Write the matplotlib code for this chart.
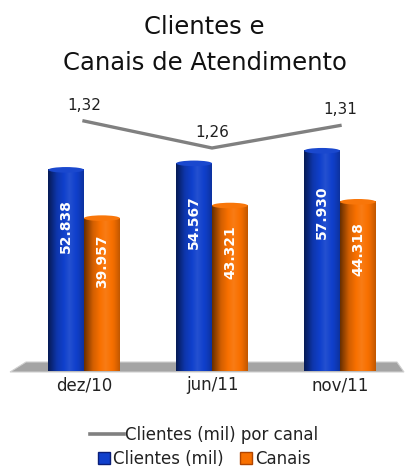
import numpy as np
import matplotlib
matplotlib.use('Agg')
import matplotlib.pyplot as plt
from matplotlib.patches import Polygon, Ellipse, Patch
from matplotlib.lines import Line2D
from matplotlib.colors import to_rgb

# dados
periodos = ['dez/10', 'jun/11', 'nov/11']
clientes = [52838, 54567, 57930]
canais = [39957, 43321, 44318]
por_canal = [1.32, 1.26, 1.31]

azul = '#1040cc'
laranja = '#f87000'
cinza = '#808080'


def fmt_milhar(v):
    return f'{v:,}'.replace(',', '.')


def gradiente(cor):
    # sombreado de cilindro: borda esquerda escura, brilho a direita do meio
    base = np.array(to_rgb(cor))
    t = np.linspace(0, 1, 64)
    f = np.interp(t, [0, 0.25, 0.6, 0.85, 1], [0.42, 0.85, 1.12, 0.95, 0.78])
    rows = []
    for k in f:
        if k <= 1:
            rows.append(base * k)
        else:
            rows.append(base + (1 - base) * (k - 1) * 0.7)
    return np.clip(np.array(rows), 0, 1)[None, :, :]


fig = plt.figure(figsize=(4.09, 4.69), dpi=100)
ax = fig.add_axes([20 / 409, (469 - 368) / 469, 384 / 409, 300 / 469])
ax2 = ax.twinx()

x = np.arange(len(periodos))
w = 0.28

# chao cinza
chao = Polygon([(-0.578, -1067), (-0.453, 1600), (2.445, 1600), (2.5, -1067)],
               closed=True, facecolor='#a4a4a4', edgecolor='#d0d0d0', lw=0.8,
               zorder=0, clip_on=False)
ax.add_patch(chao)

for serie, cor, desl in [(clientes, azul, -w / 2), (canais, laranja, w / 2)]:
    barras = ax.bar(x + desl, serie, width=w, color=cor, zorder=2)
    grad = gradiente(cor)
    for b, v in zip(barras, serie):
        x0 = b.get_x()
        im = ax.imshow(grad, extent=[x0, x0 + w, -800, v], aspect='auto',
                       zorder=3, clip_on=False)
        im.set_clip_path(b)
        b.set_y(-800)
        b.set_height(v + 800)
        topo = Ellipse((x0 + w / 2, v), w, 1500,
                       facecolor=grad[0, 40] * 0.6 + 0.4 * np.array(to_rgb(cor)),
                       edgecolor='none', zorder=4)
        ax.add_patch(topo)
        ax.text(x0 + w / 2, v * 0.715, fmt_milhar(v), rotation=90,
                ha='center', va='center', color='white', fontsize=10,
                fontweight='bold', zorder=5)

ax.set_xlim(-0.5, 2.5)
ax.set_ylim(0, 80000)
ax.set_xticks(x)
ax.set_xticklabels(periodos, fontsize=12, color='#222222')
ax.tick_params(axis='x', length=0, pad=6)
ax.set_yticks([])

ax2.plot(x, por_canal, color=cinza, lw=2.4, zorder=6)
for xi, v in zip(x, por_canal):
    ax2.annotate(f'{v:.2f}'.replace('.', ','), (xi, v), xytext=(0, 6),
                 textcoords='offset points', ha='center', va='bottom',
                 fontsize=11, color='#202020')
ax2.set_ylim(0.771, 1.4378)
ax2.set_yticks([])

for a in (ax, ax2):
    for s in a.spines.values():
        s.set_visible(False)
ax2.patch.set_visible(False)

# titulo
fig.text(0.5, 1 - 27 / 469, 'Clientes e', ha='center', va='center', fontsize=17.5, color='#111111')
fig.text(0.5, 1 - 63 / 469, 'Canais de Atendimento', ha='center', va='center', fontsize=17.5, color='#111111')

# legenda
h1 = [Line2D([0], [0], color=cinza, lw=2.6)]
leg1 = ax.legend(h1, ['Clientes (mil) por canal'], loc='center',
                 bbox_to_anchor=(0.5, (469 - 435) / 469),
                 bbox_transform=fig.transFigure, frameon=False,
                 fontsize=12, handlelength=2.0, handletextpad=0.1)
leg1.get_texts()[0].set_color('#222222')
h2 = [Patch(facecolor=azul, edgecolor='#0a1e78'), Patch(facecolor=laranja, edgecolor='#b04500')]
leg2 = fig.legend(h2, ['Clientes (mil)', 'Canais'], loc='center', ncol=2,
                  bbox_to_anchor=(0.5, (469 - 459) / 469), frameon=False,
                  fontsize=12, handlelength=0.7, handleheight=0.7, handletextpad=0.2,
                  columnspacing=1.0)
for t in leg2.get_texts():
    t.set_color('#222222')

fig.savefig('out.png', dpi=100)
